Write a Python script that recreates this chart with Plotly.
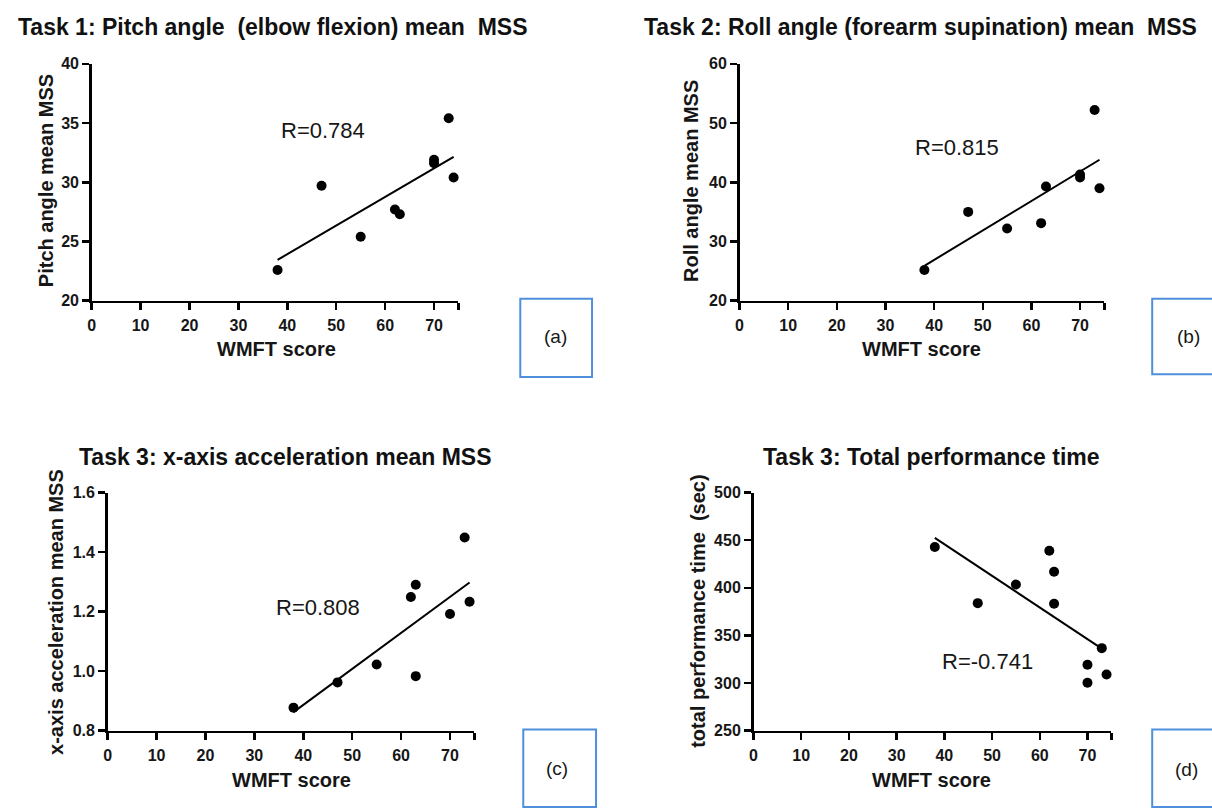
import plotly.graph_objects as go

W, H = 1212, 812

# ---------------- data ----------------
wmft_a = [38, 47, 55, 62, 63, 70, 70, 73, 74]
pitch_mss = [22.6, 29.7, 25.4, 27.7, 27.3, 31.9, 31.6, 35.4, 30.4]
fit_a_x = [38, 74]
fit_a_y = [23.45, 32.15]

wmft_b = [38, 47, 55, 62, 63, 70, 70, 73, 74]
roll_mss = [25.2, 35.0, 32.2, 33.1, 39.3, 41.3, 40.8, 52.2, 39.0]
fit_b_x = [38, 74]
fit_b_y = [25.9, 43.8]

wmft_c = [38, 47, 55, 62, 63, 63, 70, 73, 74]
xacc_mss = [0.877, 0.962, 1.022, 1.249, 1.290, 0.983, 1.192, 1.449, 1.233]
fit_c_x = [38, 74]
fit_c_y = [0.862, 1.298]

wmft_d = [38, 47, 55, 62, 63, 63, 70, 70, 73, 74]
perf_time = [442.8, 383.9, 403.4, 439.0, 416.8, 383.2, 319.2, 300.3, 336.6, 308.9]
fit_d_x = [38, 73]
fit_d_y = [452.5, 336.0]

titles = ["Task 1: Pitch angle  (elbow flexion) mean  MSS",
          "Task 2: Roll angle (forearm supination) mean  MSS",
          "Task 3: x-axis acceleration mean MSS",
          "Task 3: Total performance time"]
y_titles = ["Pitch angle mean MSS", "Roll angle mean MSS",
            "x-axis acceleration mean MSS", "total performance time  (sec)"]
r_texts = ["R=0.784", "R=0.815", "R=0.808", "R=-0.741"]
panel_labels = ["(a)", "(b)", "(c)", "(d)"]
x_ticks = [0, 10, 20, 30, 40, 50, 60, 70, 75]
x_ticktext = ["0", "10", "20", "30", "40", "50", "60", "70", ""]
y_ranges = [[20, 40], [20, 60], [0.8, 1.6], [250, 500]]
y_dticks = [5, 10, 0.2, 50]

# ---------------- layout geometry (pixels) ----------------
panels = [
    dict(x0=88, x1=456, yt=57, yb=299, title=(12, 19), ytit=(42, 176), xtit=(273, 348),
         r=(276, 125), box=(518, 297, 590, 377), lab=(553, 336)),
    dict(x0=738, x1=1104, yt=57, yb=299, title=(640, 19), ytit=(690, 177), xtit=(921, 348),
         r=(912, 142), box=(1152, 297, 1216, 374), lab=(1188, 336)),
    dict(x0=104, x1=472, yt=495, yb=738, title=(73, 459), ytit=(52, 617), xtit=(288, 788),
         r=(271, 612), box=(521, 737, 594, 816), lab=(555, 777)),
    dict(x0=752, x1=1111, yt=495, yb=738, title=(760, 459), ytit=(696, 616), xtit=(931, 788),
         r=(939, 667), box=(1152, 737, 1216, 816), lab=(1186, 778)),
]

def px(x):
    return x / W

def py(y):
    return 1 - y / H

FONT = "Liberation Sans, Arial, sans-serif"
TXT = "#161616"

xs = [wmft_a, wmft_b, wmft_c, wmft_d]
ys = [pitch_mss, roll_mss, xacc_mss, perf_time]
fxs = [fit_a_x, fit_b_x, fit_c_x, fit_d_x]
fys = [fit_a_y, fit_b_y, fit_c_y, fit_d_y]

fig = go.Figure()
annotations = []
shapes = []
layout_axes = {}

for i, p in enumerate(panels):
    n = "" if i == 0 else str(i + 1)
    xa, ya = "x" + n, "y" + n
    fig.add_trace(go.Scatter(x=fxs[i], y=fys[i], mode="lines", xaxis=xa, yaxis=ya,
                             line=dict(color="black", width=2), showlegend=False,
                             cliponaxis=False))
    fig.add_trace(go.Scatter(x=xs[i], y=ys[i], mode="markers", xaxis=xa, yaxis=ya,
                             marker=dict(color="black", size=10), showlegend=False,
                             cliponaxis=False))
    tf = dict(family=FONT, size=16, color=TXT, weight="bold")
    layout_axes["xaxis" + n] = dict(
        domain=[px(p["x0"]), px(p["x1"])], range=[0, 75], anchor=ya,
        tickmode="array", tickvals=x_ticks, ticktext=x_ticktext,
        showline=True, linecolor="black", linewidth=2.5, ticks="outside",
        ticklen=7, tickwidth=2.5, tickcolor="black", showgrid=False, zeroline=False,
        tickfont=tf, ticklabelstandoff=2)
    layout_axes["yaxis" + n] = dict(
        domain=[py(p["yb"]), py(p["yt"])], range=y_ranges[i], anchor=xa,
        dtick=y_dticks[i], tick0=y_ranges[i][0],
        tickformat=".1f" if i == 2 else "d",
        showline=True, linecolor="black", linewidth=2.5, ticks="outside",
        ticklen=7, tickwidth=2.5, tickcolor="black", showgrid=False, zeroline=False,
        tickfont=tf, ticklabelstandoff=0)

    annotations.append(dict(text="<b>" + titles[i] + "</b>", x=px(p["title"][0]), y=py(p["title"][1]),
                            xref="paper", yref="paper", xanchor="left", yanchor="middle",
                            showarrow=False, font=dict(family=FONT, size=23, color="#111")))
    annotations.append(dict(text="<b>" + y_titles[i] + "</b>", x=px(p["ytit"][0]), y=py(p["ytit"][1]),
                            xref="paper", yref="paper", xanchor="center", yanchor="middle",
                            textangle=-90, showarrow=False,
                            font=dict(family=FONT, size=20, color=TXT)))
    annotations.append(dict(text="<b>WMFT score</b>", x=px(p["xtit"][0]), y=py(p["xtit"][1]),
                            xref="paper", yref="paper", xanchor="center", yanchor="middle",
                            showarrow=False, font=dict(family=FONT, size=20, color=TXT)))
    annotations.append(dict(text=r_texts[i], x=px(p["r"][0]), y=py(p["r"][1]),
                            xref="paper", yref="paper", xanchor="left", yanchor="middle",
                            showarrow=False, font=dict(family=FONT, size=22, color=TXT)))
    bx0, by0, bx1, by1 = p["box"]
    shapes.append(dict(type="rect", xref="paper", yref="paper",
                       x0=px(bx0), x1=px(bx1), y0=py(by1), y1=py(by0),
                       line=dict(color="#4f8fdc", width=2), fillcolor="rgba(0,0,0,0)"))
    annotations.append(dict(text=panel_labels[i], x=px(p["lab"][0]), y=py(p["lab"][1]),
                            xref="paper", yref="paper", xanchor="center", yanchor="middle",
                            showarrow=False, font=dict(family=FONT, size=19, color=TXT)))

fig.update_layout(width=W, height=H, margin=dict(l=0, r=0, t=0, b=0),
                  paper_bgcolor="white", plot_bgcolor="white", hovermode=False,
                  annotations=annotations, shapes=shapes, **layout_axes)

fig.write_html("out.html", config={"displayModeBar": False, "staticPlot": True},
               post_script="document.body.style.margin='0';document.body.style.overflow='hidden';")
